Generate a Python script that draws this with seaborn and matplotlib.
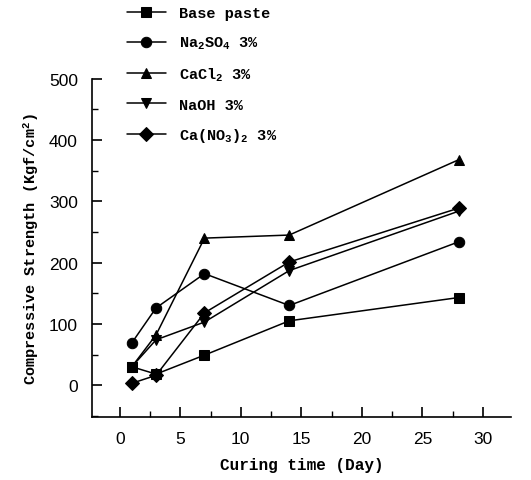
import matplotlib
matplotlib.use("Agg")
import matplotlib.pyplot as plt
import seaborn as sns
import pandas as pd
from matplotlib.ticker import MultipleLocator

days = [1, 3, 7, 14, 28]
series_names = ["Base paste", "Na$_2$SO$_4$ 3%", "CaCl$_2$ 3%", "NaOH 3%", "Ca(NO$_3$)$_2$ 3%"]
base_paste = [30, 18, 49, 105, 143]
na2so4 = [69, 126, 182, 130, 234]
cacl2 = [30, 82, 240, 245, 368]
naoh = [30, 74, 103, 187, 284]
cano3 = [3, 16, 118, 201, 289]
markers = ["s", "o", "^", "v", "D"]

values = [base_paste, na2so4, cacl2, naoh, cano3]
rows = []
for name, vals in zip(series_names, values):
    for d, v in zip(days, vals):
        rows.append({"day": d, "strength": v, "series": name})
df = pd.DataFrame(rows)

sns.set_style("ticks")
plt.rcParams["font.family"] = ["Liberation Mono", "DejaVu Sans"]
plt.rcParams["mathtext.fontset"] = "custom"
plt.rcParams["mathtext.rm"] = "Liberation Mono:bold"
plt.rcParams["mathtext.it"] = "Liberation Mono:bold"
plt.rcParams["mathtext.bf"] = "Liberation Mono:bold"
plt.rcParams["text.color"] = "black"
plt.rcParams["axes.labelcolor"] = "black"
plt.rcParams["xtick.color"] = "black"
plt.rcParams["ytick.color"] = "black"
plt.rcParams["axes.edgecolor"] = "black"

fig = plt.figure(figsize=(5.31, 4.81), dpi=100)
ax = fig.add_axes([0.173, 0.131, 0.789, 0.703])

sns.lineplot(data=df, x="day", y="strength", style="series", hue="series",
             palette=["black"] * 5, markers=dict(zip(series_names, markers)),
             dashes=False, linewidth=1.1, markersize=7.5, markeredgecolor="black",
             ax=ax, legend=True)

ax.set_xlim(-2.3, 32.3)
ax.set_ylim(-52, 500)
ax.xaxis.set_major_locator(MultipleLocator(5))
ax.xaxis.set_minor_locator(MultipleLocator(2.5))
ax.yaxis.set_major_locator(MultipleLocator(100))
ax.yaxis.set_minor_locator(MultipleLocator(50))
ax.set_xticks([0, 5, 10, 15, 20, 25, 30])
ax.set_yticks([0, 100, 200, 300, 400, 500])
ax.tick_params(which="major", direction="in", length=7, width=1.2, labelsize=12.5, pad=10)
ax.tick_params(which="minor", direction="in", length=4, width=1.0)
for lab in ax.get_xticklabels() + ax.get_yticklabels():
    lab.set_fontfamily("Liberation Sans")
ax.spines["top"].set_visible(False)
ax.spines["right"].set_visible(False)
for s in ["left", "bottom"]:
    ax.spines[s].set_linewidth(1.2)

ax.set_xlabel("Curing time (Day)", fontsize=11.5, fontweight="bold", labelpad=8)
ax.set_ylabel("Compressive Strength (Kgf/cm$^2$)", fontsize=11, fontweight="bold", labelpad=6)

handles, labels = ax.get_legend_handles_labels()
ax.legend(handles, labels, loc="upper left", bbox_to_anchor=(0.05, 1.255),
          frameon=False, handlelength=2.6, labelspacing=0.95,
          prop={"family": "Liberation Mono", "weight": "bold", "size": 11})

fig.savefig("out.png", dpi=100)
